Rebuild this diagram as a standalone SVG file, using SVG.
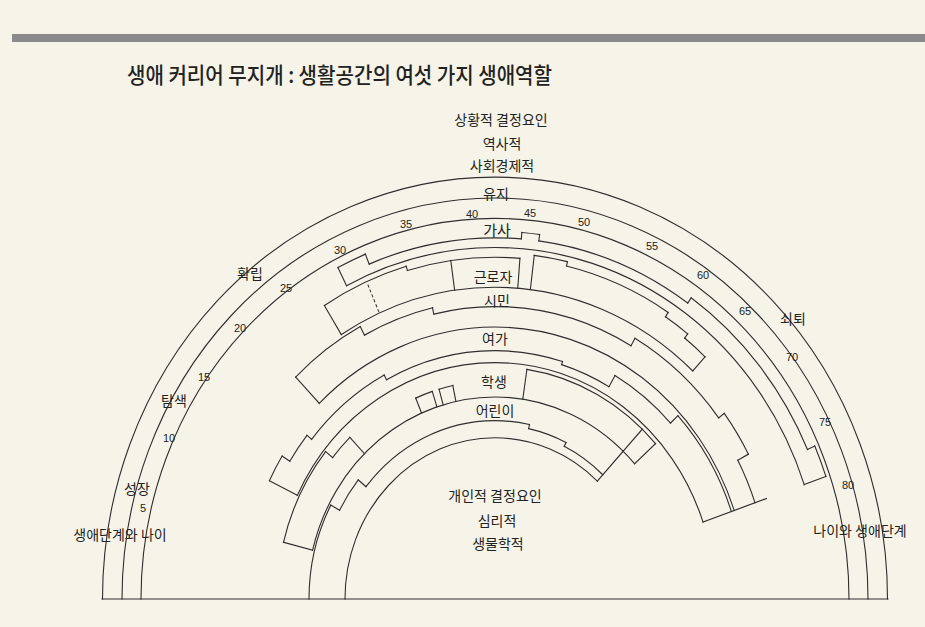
<svg xmlns="http://www.w3.org/2000/svg" width="925" height="627" viewBox="0 0 925 627">
<style>
.ln{fill:none;stroke:#2e2e2e;stroke-width:1.1;stroke-linecap:square}
.dash{fill:none;stroke:#2e2e2e;stroke-width:1;stroke-dasharray:3 2;stroke-linecap:butt}
.ko{font-family:"Noto Sans CJK KR","Noto Sans",sans-serif;fill:#222;text-anchor:middle}
.num{font-family:"Liberation Sans",Arial,sans-serif;font-size:11px;fill:#222;text-anchor:middle}
</style>
<rect width="925" height="627" fill="#f6f4e8"/>
<rect x="12" y="34" width="913" height="8" fill="#8a8a8a"/>
<text id="title" x="127" y="83" font-family="'Noto Sans CJK KR','Noto Sans',sans-serif" font-size="22" font-weight="500" fill="#222" textLength="425" lengthAdjust="spacingAndGlyphs">생애 커리어 무지개 : 생활공간의 여섯 가지 생애역할</text>

<g id="rainbow" transform="translate(495 599) scale(1 1.075)">
 <g id="frame" class="ln">
  <path d="M-392.5 0A392.5 392.5 0 0 1 392.5 0"/>
  <path d="M-373 0A373 373 0 0 1 373 0"/>
  <path d="M-354 0A354 354 0 0 1 354 0"/>
  <line x1="-393" y1="0" x2="393" y2="0"/>
 </g>
 <g id="homemaker" class="ln">
  <path d="M-327 0A327 327 0 0 1 327 0" pathLength="180" stroke-dasharray="98 400" stroke-dashoffset="-63"/>
  <line x1="327" x2="346" transform="rotate(-117)"/>
  <line x1="327" x2="350" transform="rotate(-19)"/>
  <path d="M-346 0A346 346 0 0 1 346 0" pathLength="180" stroke-dasharray="5 400" stroke-dashoffset="-63"/>
  <line x1="336" x2="346" transform="rotate(-112)"/>
  <path d="M-336 0A336 336 0 0 1 336 0" pathLength="180" stroke-dasharray="26.5 400" stroke-dashoffset="-68"/>
  <line x1="336" x2="342" transform="rotate(-85.5)"/>
  <path d="M-342 0A342 342 0 0 1 342 0" pathLength="180" stroke-dasharray="3 400" stroke-dashoffset="-94.5"/>
  <line x1="336" x2="342" transform="rotate(-82.5)"/>
  <path d="M-336 0A336 336 0 0 1 336 0" pathLength="180" stroke-dasharray="27.5 400" stroke-dashoffset="-97.5"/>
  <line x1="336" x2="342" transform="rotate(-55)"/>
  <path d="M-342 0A342 342 0 0 1 342 0" pathLength="180" stroke-dasharray="31 400" stroke-dashoffset="-125"/>
  <line x1="342" x2="350" transform="rotate(-24)"/>
  <path d="M-350 0A350 350 0 0 1 350 0" pathLength="180" stroke-dasharray="5 400" stroke-dashoffset="-156"/>
 </g>
 <g id="worker" class="ln">
  <path d="M-290 0A290 290 0 0 1 290 0" pathLength="180" stroke-dasharray="75 400" stroke-dashoffset="-58"/>
  <line x1="290" x2="322" transform="rotate(-122)"/>
  <line x1="290" x2="308" transform="rotate(-47)"/>
  <path d="M-322 0A322 322 0 0 1 322 0" pathLength="180" stroke-dasharray="16 400" stroke-dashoffset="-58"/>
  <line class="dash" x1="291" x2="321" transform="rotate(-113.5)"/>
  <line x1="318" x2="322" transform="rotate(-106)"/>
  <path d="M-318 0A318 318 0 0 1 318 0" pathLength="180" stroke-dasharray="20.5 400" stroke-dashoffset="-74"/>
  <line x1="290" x2="318" transform="rotate(-98)"/>
  <line x1="290" x2="318" transform="rotate(-85.5)"/>
  <line x1="290" x2="322" transform="rotate(-83)"/>
  <path d="M-322 0A322 322 0 0 1 322 0" pathLength="180" stroke-dasharray="6 400" stroke-dashoffset="-97"/>
  <line x1="318" x2="322" transform="rotate(-77)"/>
  <path d="M-318 0A318 318 0 0 1 318 0" pathLength="180" stroke-dasharray="20 400" stroke-dashoffset="-103"/>
  <line x1="313" x2="318" transform="rotate(-57)"/>
  <path d="M-313 0A313 313 0 0 1 313 0" pathLength="180" stroke-dasharray="5 400" stroke-dashoffset="-123"/>
  <line x1="308" x2="313" transform="rotate(-52)"/>
  <path d="M-308 0A308 308 0 0 1 308 0" pathLength="180" stroke-dasharray="5 400" stroke-dashoffset="-128"/>
 </g>
 <g id="citizen" class="ln">
  <path d="M-253 0A253 253 0 0 1 253 0" pathLength="180" stroke-dasharray="115 400" stroke-dashoffset="-46"/>
  <line x1="253" x2="287" transform="rotate(-134)"/>
  <path d="M-287 0A287 287 0 0 1 287 0" pathLength="180" stroke-dasharray="16 400" stroke-dashoffset="-46"/>
  <line x1="278" x2="287" transform="rotate(-118)"/>
  <path d="M-278 0A278 278 0 0 1 278 0" pathLength="180" stroke-dasharray="15 400" stroke-dashoffset="-62"/>
  <line x1="272" x2="278" transform="rotate(-103)"/>
  <path d="M-272 0A272 272 0 0 1 272 0" pathLength="180" stroke-dasharray="43 400" stroke-dashoffset="-77"/>
  <line x1="272" x2="280" transform="rotate(-60)"/>
  <path d="M-280 0A280 280 0 0 1 280 0" pathLength="180" stroke-dasharray="23 400" stroke-dashoffset="-120"/>
  <line x1="280" x2="287" transform="rotate(-37)"/>
  <path d="M-287 0A287 287 0 0 1 287 0" pathLength="180" stroke-dasharray="9 400" stroke-dashoffset="-143"/>
  <line x1="275" x2="287" transform="rotate(-28)"/>
  <path d="M-275 0A275 275 0 0 1 275 0" pathLength="180" stroke-dasharray="9 400" stroke-dashoffset="-152"/>
 </g>
 <g id="leisure" class="ln">
  <path d="M-220 0A220 220 0 0 1 220 0" pathLength="180" stroke-dasharray="135 400" stroke-dashoffset="-26"/>
  <line x1="220" x2="251" transform="rotate(-154)"/>
  <line x1="220" x2="287" transform="rotate(-19)"/>
  <path d="M-251 0A251 251 0 0 1 251 0" pathLength="180" stroke-dasharray="6 400" stroke-dashoffset="-26"/>
  <line x1="242" x2="251" transform="rotate(-148)"/>
  <path d="M-242 0A242 242 0 0 1 242 0" pathLength="180" stroke-dasharray="7 400" stroke-dashoffset="-32"/>
  <line x1="236" x2="242" transform="rotate(-141)"/>
  <path d="M-236 0A236 236 0 0 1 236 0" pathLength="180" stroke-dasharray="23 400" stroke-dashoffset="-39"/>
  <line x1="231" x2="236" transform="rotate(-118)"/>
  <path d="M-231 0A231 231 0 0 1 231 0" pathLength="180" stroke-dasharray="45 400" stroke-dashoffset="-62"/>
  <line x1="228" x2="231" transform="rotate(-73)"/>
  <path d="M-228 0A228 228 0 0 1 228 0" pathLength="180" stroke-dasharray="13 400" stroke-dashoffset="-107"/>
  <line x1="228" x2="240" transform="rotate(-60)"/>
  <path d="M-240 0A240 240 0 0 1 240 0" pathLength="180" stroke-dasharray="17 400" stroke-dashoffset="-120"/>
  <line x1="240" x2="250" transform="rotate(-43)"/>
  <path d="M-250 0A250 250 0 0 1 250 0" pathLength="180" stroke-dasharray="24 400" stroke-dashoffset="-137"/>
 </g>
 <g id="student" class="ln">
  <path d="M-188 0A188 188 0 0 1 188 0" pathLength="180" stroke-dasharray="124 400" stroke-dashoffset="-14"/>
  <line x1="188" x2="218" transform="rotate(-166)"/>
  <path d="M-218 0A218 218 0 0 1 218 0" pathLength="180" stroke-dasharray="25 400" stroke-dashoffset="-14"/>
  <line x1="209" x2="218" transform="rotate(-141)"/>
  <path d="M-209 0A209 209 0 0 1 209 0" pathLength="180" stroke-dasharray="7 400" stroke-dashoffset="-39"/>
  <line x1="188" x2="209" transform="rotate(-134)"/>
  <line x1="188" x2="203" transform="rotate(-113)"/>
  <path d="M-203 0A203 203 0 0 1 203 0" pathLength="180" stroke-dasharray="5 400" stroke-dashoffset="-67"/>
  <line x1="188" x2="203" transform="rotate(-108)"/>
  <line x1="188" x2="203" transform="rotate(-106)"/>
  <path d="M-203 0A203 203 0 0 1 203 0" pathLength="180" stroke-dasharray="4 400" stroke-dashoffset="-74"/>
  <line x1="188" x2="203" transform="rotate(-102)"/>
  <line x1="188" x2="216" transform="rotate(-81.5)"/>
  <path d="M-216 0A216 216 0 0 1 216 0" pathLength="180" stroke-dasharray="39.5 400" stroke-dashoffset="-98.5"/>
  <line x1="188" x2="216" transform="rotate(-47)"/>
  <line x1="188" x2="216" transform="rotate(-42)"/>
 </g>
 <g id="child" class="ln">
  <path d="M-150 0A150 150 0 0 1 150 0" pathLength="180" stroke-dasharray="133 400" stroke-dashoffset="0"/>
  <line x1="150" x2="188" transform="rotate(-47)"/>
  <path d="M-186 0A186 186 0 0 1 186 0" pathLength="180" stroke-dasharray="28 400" stroke-dashoffset="0"/>
  <line x1="176" x2="186" transform="rotate(-152)"/>
  <path d="M-176 0A176 176 0 0 1 176 0" pathLength="180" stroke-dasharray="11 400" stroke-dashoffset="-28"/>
  <line x1="166" x2="176" transform="rotate(-141)"/>
  <path d="M-166 0A166 166 0 0 1 166 0" pathLength="180" stroke-dasharray="63 400" stroke-dashoffset="-39"/>
  <line x1="162" x2="166" transform="rotate(-78)"/>
  <path d="M-162 0A162 162 0 0 1 162 0" pathLength="180" stroke-dasharray="14 400" stroke-dashoffset="-102"/>
  <line x1="158" x2="162" transform="rotate(-64)"/>
  <path d="M-158 0A158 158 0 0 1 158 0" pathLength="180" stroke-dasharray="17 400" stroke-dashoffset="-116"/>
 </g>
</g>

<g id="context-labels" class="ko" font-size="14">
 <text x="501" y="125">상황적 결정요인</text>
 <text x="502" y="149">역사적</text>
 <text x="502" y="171">사회경제적</text>
 <text x="495" y="501">개인적 결정요인</text>
 <text x="497" y="526">심리적</text>
 <text x="498" y="549">생물학적</text>
</g>
<g id="stage-labels" class="ko" font-size="14">
 <text x="137" y="494">성장</text>
 <text x="174" y="406">탐색</text>
 <text x="250" y="279">확립</text>
 <text x="496" y="199">유지</text>
 <text x="793" y="324">쇠퇴</text>
 <text x="120" y="540">생애단계와 나이</text>
 <text x="860" y="536">나이와 생애단계</text>
</g>
<g id="role-labels" class="ko" font-size="14">
 <text x="497" y="236" font-size="15">가사</text>
 <text x="493" y="282">근로자</text>
 <text x="497" y="306">시민</text>
 <text x="495" y="344">여가</text>
 <text x="494" y="387">학생</text>
 <text x="495" y="416">어린이</text>
</g>
<g id="ages" class="num">
 <text x="143" y="512">5</text>
 <text x="169" y="442">10</text>
 <text x="204" y="381">15</text>
 <text x="240" y="332">20</text>
 <text x="286" y="292">25</text>
 <text x="340" y="254">30</text>
 <text x="406" y="228">35</text>
 <text x="472" y="218">40</text>
 <text x="530" y="217">45</text>
 <text x="584" y="226">50</text>
 <text x="652" y="250">55</text>
 <text x="703" y="279">60</text>
 <text x="745" y="315">65</text>
 <text x="792" y="361">70</text>
 <text x="825" y="426">75</text>
 <text x="848" y="489">80</text>
</g>
</svg>
